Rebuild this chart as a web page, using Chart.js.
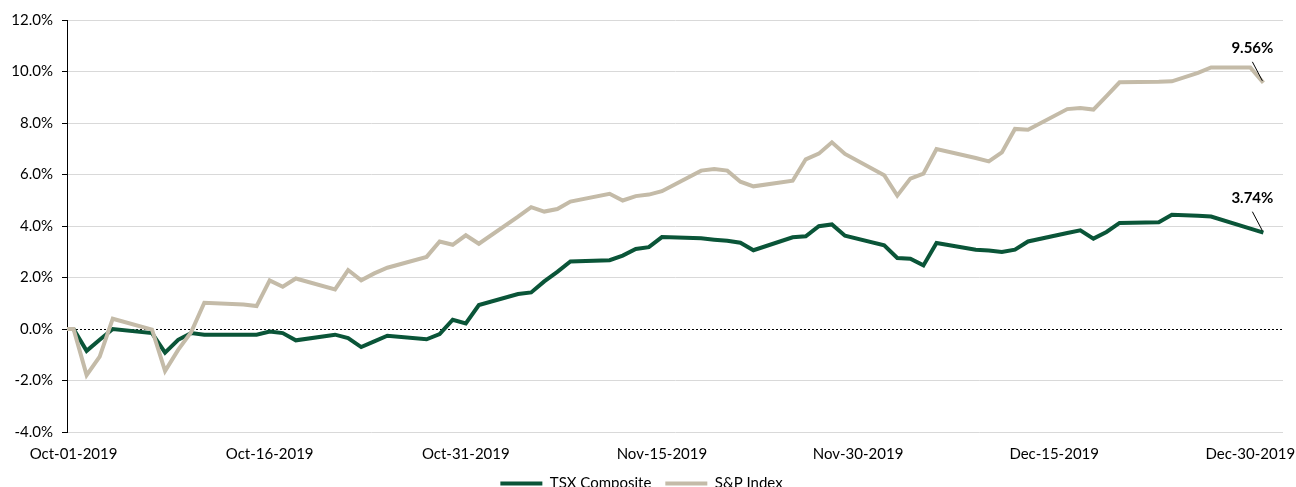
<!DOCTYPE html>
<html>
<head>
<meta charset="utf-8">
<script src="https://cdn.jsdelivr.net/npm/chart.js@4"></script>
<style>
  html, body { margin: 0; padding: 0; background: #fff; overflow: hidden; }
  #wrap { position: relative; width: 1296px; height: 487px; }
</style>
</head>
<body>
<div id="wrap"><canvas id="c"></canvas></div>
<script>
// ---- data ----
const dates = [
  '2019-09-30','2019-10-01','2019-10-02','2019-10-03','2019-10-04','2019-10-07','2019-10-08','2019-10-09','2019-10-10','2019-10-11',
  '2019-10-14','2019-10-15','2019-10-16','2019-10-17','2019-10-18','2019-10-21','2019-10-22','2019-10-23','2019-10-24','2019-10-25',
  '2019-10-28','2019-10-29','2019-10-30','2019-10-31','2019-11-01','2019-11-04','2019-11-05','2019-11-06','2019-11-07','2019-11-08',
  '2019-11-11','2019-11-12','2019-11-13','2019-11-14','2019-11-15','2019-11-18','2019-11-19','2019-11-20','2019-11-21','2019-11-22',
  '2019-11-25','2019-11-26','2019-11-27','2019-11-28','2019-11-29','2019-12-02','2019-12-03','2019-12-04','2019-12-05','2019-12-06',
  '2019-12-09','2019-12-10','2019-12-11','2019-12-12','2019-12-13','2019-12-16','2019-12-17','2019-12-18','2019-12-19','2019-12-20',
  '2019-12-23','2019-12-24','2019-12-26','2019-12-27','2019-12-30','2019-12-31'
];
const tsxComposite = [
  0, 0, -0.85, -0.42, 0.00, -0.16, -0.92, -0.42, -0.16, -0.22,
  -0.22, -0.22, -0.10, -0.16, -0.44, -0.22, -0.35, -0.70, -0.48, -0.26,
  -0.40, -0.20, 0.36, 0.22, 0.93, 1.36, 1.42, 1.85, 2.22, 2.62,
  2.67, 2.85, 3.11, 3.18, 3.57, 3.52, 3.47, 3.43, 3.35, 3.06,
  3.56, 3.60, 3.99, 4.06, 3.62, 3.25, 2.76, 2.73, 2.47, 3.34,
  3.08, 3.05, 2.99, 3.08, 3.40, 3.73, 3.83, 3.51, 3.77, 4.12,
  4.15, 4.44, 4.40, 4.37, 3.90, 3.74
];
const spIndex = [
  0, 0, -1.79, -1.07, 0.40, -0.02, -1.63, -0.81, -0.12, 1.02,
  0.95, 0.89, 1.89, 1.64, 1.96, 1.54, 2.29, 1.89, 2.16, 2.38,
  2.80, 3.40, 3.27, 3.64, 3.31, 4.36, 4.73, 4.56, 4.66, 4.95,
  5.25, 4.99, 5.16, 5.22, 5.35, 6.15, 6.21, 6.15, 5.72, 5.54,
  5.76, 6.59, 6.81, 7.25, 6.80, 5.97, 5.18, 5.84, 6.03, 6.99,
  6.64, 6.51, 6.86, 7.77, 7.74, 8.54, 8.58, 8.52, 9.04, 9.58,
  9.60, 9.62, 9.95, 10.16, 10.16, 9.56
];
const xTickLabels = ['Oct-01-2019','Oct-16-2019','Oct-31-2019','Nov-15-2019','Nov-30-2019','Dec-15-2019','Dec-30-2019'];
const xTickDates = ['2019-10-01','2019-10-16','2019-10-31','2019-11-15','2019-11-30','2019-12-15','2019-12-30'];
const seriesNames = ['TSX Composite', 'S&P Index'];

// ---- helpers ----
const DAY = 86400000;
const origin = Date.parse('2019-10-01');
const dayOf = d => Math.round((Date.parse(d) - origin) / DAY);
const toPoints = vals => vals.map((v, i) => ({ x: dayOf(dates[i]), y: v }));
const tickDays = xTickDates.map(dayOf);

const GREEN = '#0a5538';
const BEIGE = '#c4bba8';
const FONT = 'Lato';

const endLabels = {
  id: 'endLabels',
  afterDatasetsDraw(chart) {
    const ctx = chart.ctx;
    chart.data.datasets.forEach((ds, i) => {
      const meta = chart.getDatasetMeta(i);
      const pt = meta.data[meta.data.length - 1];
      const v = ds.data[ds.data.length - 1].y;
      ctx.save();
      ctx.strokeStyle = '#000';
      ctx.lineWidth = 1;
      ctx.beginPath();
      ctx.moveTo(pt.x - 11, pt.y - 21);
      ctx.lineTo(pt.x - 1, pt.y - 2);
      ctx.stroke();
      ctx.font = 'bold 15px ' + FONT;
      ctx.fillStyle = '#000';
      ctx.textAlign = 'center';
      ctx.textBaseline = 'middle';
      ctx.fillText(v.toFixed(2) + '%', pt.x - 11, pt.y - 35);
      ctx.restore();
    });
  }
};

new Chart(document.getElementById('c'), {
  type: 'line',
  data: {
    datasets: [
      { label: seriesNames[0], data: toPoints(tsxComposite), borderColor: GREEN, backgroundColor: GREEN,
        borderWidth: 4, pointRadius: 0, tension: 0, order: 1, clip: { left: 0, right: false, top: false, bottom: false } },
      { label: seriesNames[1], data: toPoints(spIndex), borderColor: BEIGE, backgroundColor: BEIGE,
        borderWidth: 4, pointRadius: 0, tension: 0, order: 0, clip: { left: 0, right: false, top: false, bottom: false } }
    ]
  },
  options: {
    responsive: true,
    maintainAspectRatio: false,
    animation: false,
    layout: { padding: { top: 20, right: 13, left: 0, bottom: -14 } },
    plugins: {
      tooltip: { enabled: false },
      legend: {
        position: 'bottom',
        labels: {
          boxWidth: 42, boxHeight: 4, padding: 14, color: '#000',
          font: { family: FONT, size: 15 },
          sort: (a, b) => a.datasetIndex - b.datasetIndex,
          generateLabels: chart => Chart.defaults.plugins.legend.labels.generateLabels(chart)
            .map(l => Object.assign(l, { lineWidth: 0 }))
        }
      }
    },
    scales: {
      x: {
        type: 'linear',
        min: -0.5, max: 92.5,
        afterBuildTicks: s => { s.ticks = tickDays.map(v => ({ value: v })); },
        afterFit: s => { s.height = 30; s.paddingLeft = 0; s.paddingRight = 0; },
        ticks: {
          autoSkip: false, maxRotation: 0, padding: 13, color: '#000',
          font: { family: FONT, size: 15 },
          callback: v => xTickLabels[tickDays.indexOf(v)]
        },
        grid: { display: false, drawTicks: false },
        border: { display: false }
      },
      y: {
        min: -4, max: 12,
        afterFit: s => { s.width = 67; },
        ticks: {
          stepSize: 2, padding: 9, color: '#000',
          font: { family: FONT, size: 15 },
          callback: v => v.toFixed(1) + '%'
        },
        grid: {
          color: c => (c.tick && c.tick.value === 0) ? '#000' : '#d9d9d9',
          lineWidth: 1,
          tickColor: '#000', tickLength: 5, drawTicks: true
        },
        border: {
          display: true, color: '#000', width: 1,
          dash: c => (c.tick && c.tick.value === 0) ? [2, 2] : []
        }
      }
    }
  },
  plugins: [endLabels]
});
</script>
</body>
</html>
